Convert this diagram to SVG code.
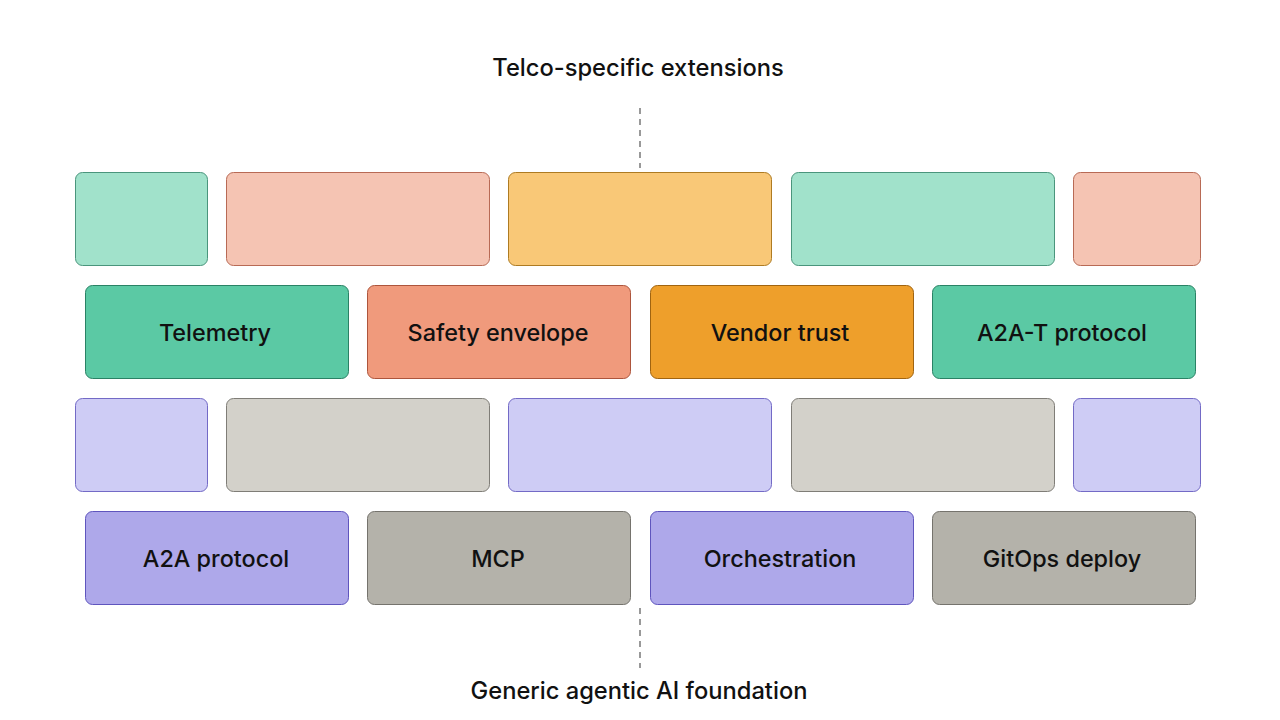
<svg xmlns="http://www.w3.org/2000/svg" width="1280" height="720" viewBox="0 0 1280 720">
<style>
.t{font-family:Inter,"Liberation Sans",sans-serif;font-weight:500;fill:#111;text-anchor:middle}
.lbl{font-size:23.4px}
.hd{font-size:23.7px}
rect{stroke-width:1}
.tl{fill:#A1E2CB;stroke:#4A957C}
.sl{fill:#F5C4B3;stroke:#B86A55}
.ol{fill:#F9C877;stroke:#AE7B22}
.td{fill:#5BC9A4;stroke:#2A8265}
.sd{fill:#F09A7C;stroke:#AD553C}
.od{fill:#EE9F2B;stroke:#A06410}
.pl{fill:#CECCF5;stroke:#736AC6}
.gl{fill:#D3D1CA;stroke:#7F7D77}
.pd{fill:#AEA8EA;stroke:#5F55BE}
.gd{fill:#B4B2AA;stroke:#75736D}
.dash{stroke:#999;stroke-width:2;stroke-dasharray:6 5;fill:none}
</style>
<rect width="1280" height="720" fill="#fff"/>
<text class="t hd" x="638" y="76">Telco-specific extensions</text>
<text class="t hd" x="639" y="699">Generic agentic AI foundation</text>
<g id="connectors">
<line class="dash" x1="640" y1="108" x2="640" y2="168"/>
<line class="dash" x1="640" y1="608" x2="640" y2="668"/>
</g>
<g id="telco-top">
<rect class="tl" x="75.5" y="172.5" width="132" height="93" rx="7"/>
<rect class="sl" x="226.5" y="172.5" width="263" height="93" rx="7"/>
<rect class="ol" x="508.5" y="172.5" width="263" height="93" rx="7"/>
<rect class="tl" x="791.5" y="172.5" width="263" height="93" rx="7"/>
<rect class="sl" x="1073.5" y="172.5" width="127" height="93" rx="7"/>
</g>
<g id="telemetry"><rect class="td" x="85.5" y="285.5" width="263" height="93" rx="7"/><text class="t lbl" x="215" y="341">Telemetry</text></g>
<g id="safety-envelope"><rect class="sd" x="367.5" y="285.5" width="263" height="93" rx="7"/><text class="t lbl" x="498" y="341">Safety envelope</text></g>
<g id="vendor-trust"><rect class="od" x="650.5" y="285.5" width="263" height="93" rx="7"/><text class="t lbl" x="780" y="341">Vendor trust</text></g>
<g id="a2a-t-protocol"><rect class="td" x="932.5" y="285.5" width="263" height="93" rx="7"/><text class="t lbl" x="1062" y="341">A2A-T protocol</text></g>
<g id="generic-top">
<rect class="pl" x="75.5" y="398.5" width="132" height="93" rx="7"/>
<rect class="gl" x="226.5" y="398.5" width="263" height="93" rx="7"/>
<rect class="pl" x="508.5" y="398.5" width="263" height="93" rx="7"/>
<rect class="gl" x="791.5" y="398.5" width="263" height="93" rx="7"/>
<rect class="pl" x="1073.5" y="398.5" width="127" height="93" rx="7"/>
</g>
<g id="a2a-protocol"><rect class="pd" x="85.5" y="511.5" width="263" height="93" rx="7"/><text class="t lbl" x="216" y="567">A2A protocol</text></g>
<g id="mcp"><rect class="gd" x="367.5" y="511.5" width="263" height="93" rx="7"/><text class="t lbl" x="498" y="567">MCP</text></g>
<g id="orchestration"><rect class="pd" x="650.5" y="511.5" width="263" height="93" rx="7"/><text class="t lbl" x="780" y="567">Orchestration</text></g>
<g id="gitops-deploy"><rect class="gd" x="932.5" y="511.5" width="263" height="93" rx="7"/><text class="t lbl" x="1062" y="567">GitOps deploy</text></g>
</svg>
